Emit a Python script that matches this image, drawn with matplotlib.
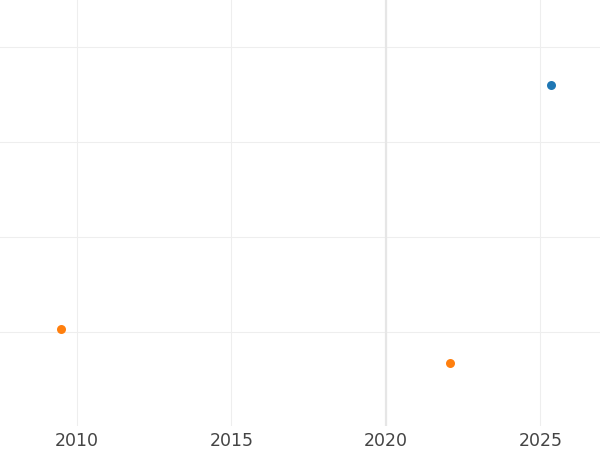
import matplotlib
matplotlib.use("Agg")
import matplotlib.pyplot as plt

# Data
blue_x = [2025.34]
blue_y = [3.6]
orange_x = [2009.5, 2022.07]
orange_y = [1.03, 0.67]
x_ticks = [2010, 2015, 2020, 2025]
x_tick_labels = ["2010", "2015", "2020", "2025"]
y_ticks = [1, 2, 3, 4]
ref_year = 2020

fig = plt.figure(figsize=(6, 4.5), dpi=100)
ax = fig.add_axes([0, 1 - 426 / 450, 1, 426 / 450])

ax.set_xlim(2007.51, 2026.93)
ax.set_ylim(0.01, 4.495)

ax.set_xticks(x_ticks)
ax.set_xticklabels(x_tick_labels)
ax.set_yticks(y_ticks)
ax.set_yticklabels([])

ax.grid(True, color="#eeeeee", linewidth=0.8)
ax.set_axisbelow(True)
ax.axvline(ref_year, color="#e6e6e6", linewidth=1.6, zorder=1)

ax.scatter(blue_x, blue_y, s=42, color="#1f77b4", zorder=3, linewidths=0)
ax.scatter(orange_x, orange_y, s=42, color="#ff7f0e", zorder=3, linewidths=0)

for s in ax.spines.values():
    s.set_visible(False)
ax.tick_params(axis="both", length=0)
ax.tick_params(axis="x", labelsize=12.5, labelcolor="#444444", pad=4)

fig.savefig("out.png", dpi=100)
